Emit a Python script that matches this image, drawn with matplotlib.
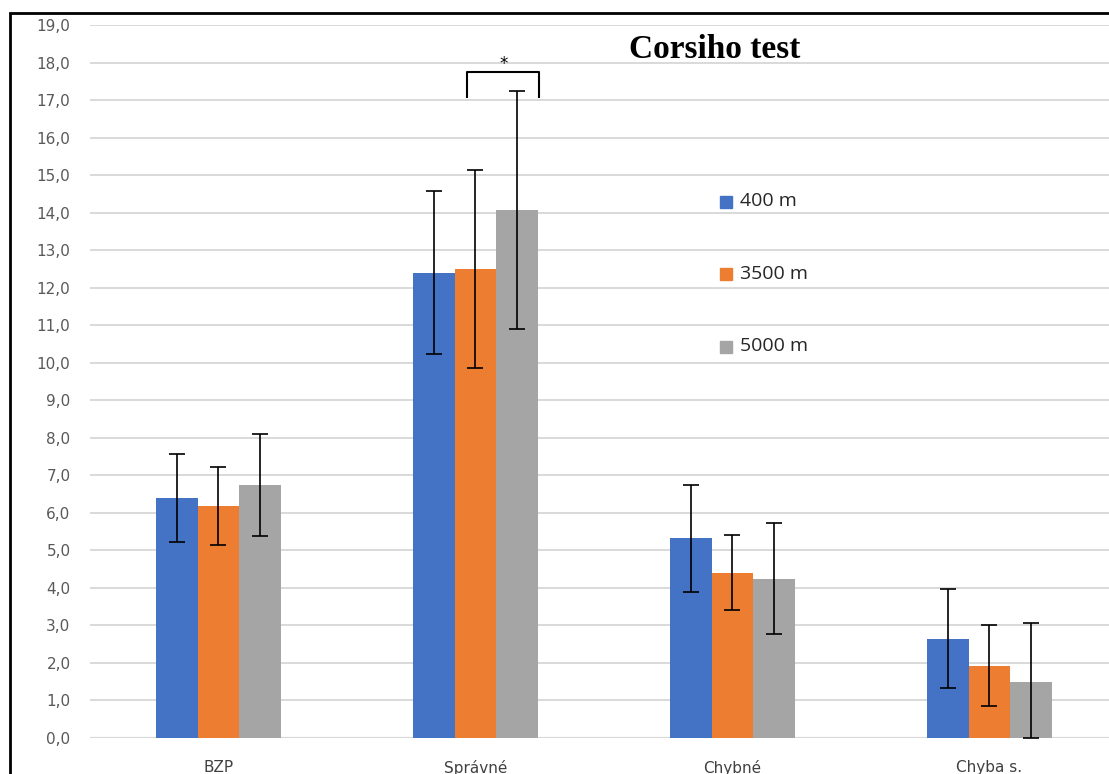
import numpy as np
import matplotlib
matplotlib.use('Agg')
import matplotlib.pyplot as plt
from matplotlib.patches import Rectangle

categories = ['BZP', 'Správné', 'Chybné', 'Chyba s.']
series = ['400 m', '3500 m', '5000 m']
means_400 = [6.4, 12.4, 5.32, 2.65]
means_3500 = [6.17, 12.49, 4.41, 1.92]
means_5000 = [6.75, 14.07, 4.24, 1.49]
err_400 = [1.17, 2.17, 1.43, 1.31]
err_3500 = [1.04, 2.64, 1.0, 1.08]
err_5000 = [1.36, 3.17, 1.48, 1.57]
colors = ['#4472C4', '#ED7D31', '#A5A5A5']

fig = plt.figure(figsize=(11.09, 7.74), dpi=100)
ax = fig.add_axes([90 / 1109, 36 / 774, 1019 / 1109, 713 / 774])

x = np.arange(len(categories))
w = 0.163
means = [means_400, means_3500, means_5000]
errs = [err_400, err_3500, err_5000]
for i in range(3):
    m = np.array(means[i])
    e = np.array(errs[i])
    lower = np.minimum(e, m)
    ax.bar(x + (i - 1) * w, m, w, color=colors[i], zorder=2)
    ax.errorbar(x + (i - 1) * w, m, yerr=[lower, e], fmt='none', ecolor='black',
                elinewidth=1.2, capsize=6, capthick=1.2, zorder=3)

ax.set_xlim(-0.5, 3.465)
ax.set_ylim(0, 19)
ax.set_yticks(np.arange(0, 20, 1))
ax.set_yticklabels(['%d,0' % v for v in range(20)])
ax.set_xticks(x)
ax.set_xticklabels(categories)
ax.yaxis.grid(True, color='#D9D9D9', lw=1.4, zorder=0)
ax.set_axisbelow(True)
for s in ax.spines.values():
    s.set_visible(False)
ax.axhline(0, color='#D9D9D9', lw=1.6, zorder=1)
ax.tick_params(axis='y', length=0, pad=14, labelsize=11, labelcolor='#595959')
ax.tick_params(axis='x', length=0, pad=16, labelsize=11, labelcolor='#404040')

# significance bracket
ax.plot([0.968, 0.968, 1.248, 1.248], [17.08, 17.75, 17.75, 17.08], color='black', lw=1.5,
        solid_joinstyle='round', zorder=4)
ax.text(1.108, 17.95, '*', ha='center', va='center', fontsize=12, color='black')

# legend
for i, s in enumerate(series):
    ly = 0.740 - i * 0.0935
    fig.patches.append(Rectangle((720 / 1109, ly - 0.0085), 12 / 1109, 12 / 774,
                                 transform=fig.transFigure, color=colors[i]))
    fig.text(740 / 1109, ly, s, fontsize=14, va='center', ha='left', color='#262626',
             family='Open Sans')

fig.text(715 / 1109, 725 / 774, 'Corsiho test', fontsize=24, fontweight='bold',
         family='Liberation Serif', ha='center', va='center')

# chart frame
fig.patches.append(Rectangle((10 / 1109, -0.1), 1.2, (774 - 13) / 774 + 0.1,
                             transform=fig.transFigure, fill=False, edgecolor='black', lw=2))

fig.savefig('out.png', dpi=100)
